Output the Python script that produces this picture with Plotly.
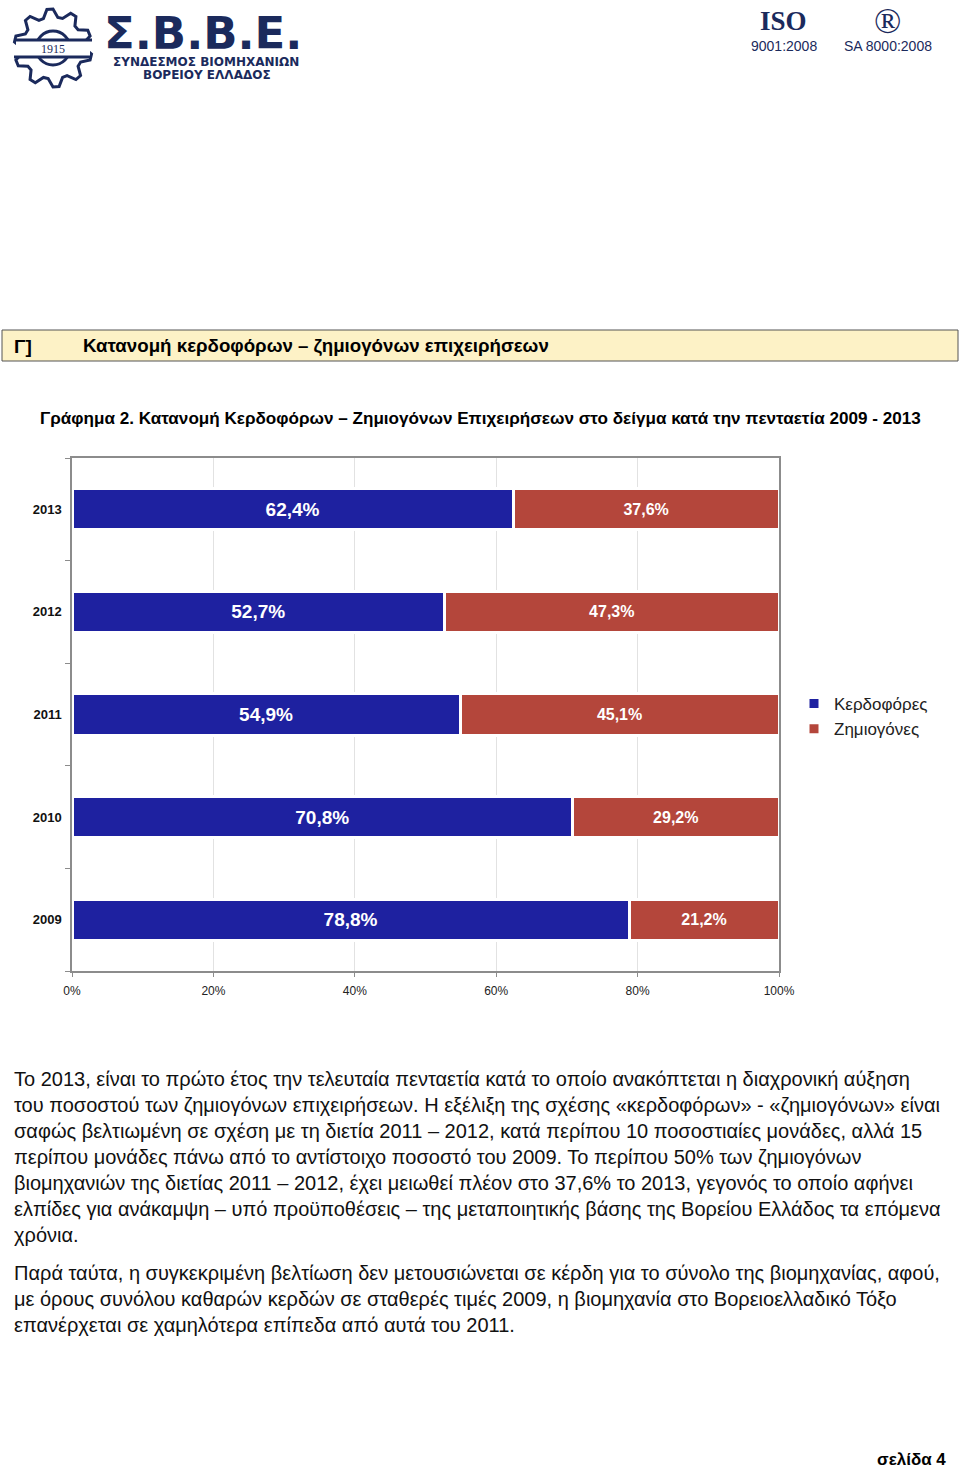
import math
import plotly.graph_objects as go

W, H = 960, 1468

# ---------------- data ----------------
years = ["2009", "2010", "2011", "2012", "2013"]
profit = [78.8, 70.8, 54.9, 52.7, 62.4]
loss = [21.2, 29.2, 45.1, 47.3, 37.6]
series_names = ["Κερδοφόρες", "Ζημιογόνες"]
x_ticks = [0, 20, 40, 60, 80, 100]
x_tick_labels = ["0%", "20%", "40%", "60%", "80%", "100%"]

section_label = "Γ]"
section_title = "Κατανομή κερδοφόρων – ζημιογόνων επιχειρήσεων"
chart_title = "Γράφημα 2. Κατανομή Κερδοφόρων – Ζημιογόνων Επιχειρήσεων στο δείγμα κατά την πενταετία 2009 - 2013"
para_lines = [
    "Το 2013, είναι το πρώτο έτος την τελευταία πενταετία κατά το οποίο ανακόπτεται η διαχρονική αύξηση",
    "του ποσοστού των ζημιογόνων επιχειρήσεων. Η εξέλιξη της σχέσης «κερδοφόρων» - «ζημιογόνων» είναι",
    "σαφώς βελτιωμένη σε σχέση με τη διετία 2011 – 2012, κατά περίπου 10 ποσοστιαίες μονάδες, αλλά 15",
    "περίπου μονάδες πάνω από το αντίστοιχο ποσοστό του 2009. Το περίπου 50% των ζημιογόνων",
    "βιομηχανιών της διετίας 2011 – 2012, έχει μειωθεί πλέον στο 37,6% το 2013, γεγονός το οποίο αφήνει",
    "ελπίδες για ανάκαμψη – υπό προϋποθέσεις – της μεταποιητικής βάσης της Βορείου Ελλάδος τα επόμενα",
    "χρόνια.",
]
para2_lines = [
    "Παρά ταύτα, η συγκεκριμένη βελτίωση δεν μετουσιώνεται σε κέρδη για το σύνολο της βιομηχανίας, αφού,",
    "με όρους συνόλου καθαρών κερδών σε σταθερές τιμές 2009, η βιομηχανία στο Βορειοελλαδικό Τόξο",
    "επανέρχεται σε χαμηλότερα επίπεδα από αυτά του 2011.",
]
page_label = "σελίδα 4"

# ---------------- helpers ----------------
def px(x):
    return x / W

def py(y):
    return 1 - y / H

def fmt(v):
    return f"{v:.1f}".replace(".", ",") + "%"

BLUE = "#1e21a0"
RED = "#b4463b"
NAVY = "#1b2a5c"
TXT = "Liberation Sans, Arial, sans-serif"
ARIAL = "Liberation Sans, Arial, sans-serif"

fig = go.Figure()
fig.add_trace(go.Bar(
    y=years, x=profit, orientation="h", name=series_names[0],
    marker=dict(color=BLUE, line=dict(color="white", width=3)),
    text=[fmt(v) for v in profit], textposition="inside", insidetextanchor="middle",
    textfont=dict(color="white", size=19, family=ARIAL, weight="bold"),
    hoverinfo="skip",
))
fig.add_trace(go.Bar(
    y=years, x=loss, orientation="h", name=series_names[1],
    marker=dict(color=RED, line=dict(color="white", width=3)),
    text=[fmt(v) for v in loss], textposition="inside", insidetextanchor="middle",
    textfont=dict(color="white", size=16, family=ARIAL, weight="bold"),
    hoverinfo="skip",
))

fig.update_layout(
    width=W, height=H, autosize=False,
    margin=dict(l=0, r=0, t=0, b=0, autoexpand=False),
    paper_bgcolor="white", plot_bgcolor="white",
    barmode="stack", bargap=0.6,
    showlegend=True,
    legend=dict(x=px(933), y=py(686), xanchor="right", yanchor="top",
                font=dict(size=17, family=ARIAL, color="#222"),
                traceorder="normal", tracegroupgap=0, itemwidth=30),
    xaxis=dict(domain=[px(72), px(779)], range=[0, 100], tickvals=x_ticks,
               ticktext=x_tick_labels, showgrid=True, gridcolor="#e2e2e2", gridwidth=1,
               showline=True, linecolor="#8c8c8c", linewidth=1.5, mirror=True,
               ticks="outside", ticklen=4, tickcolor="#8c8c8c", automargin=False,
               ticklabelstandoff=4,
               tickfont=dict(size=12, family=ARIAL, color="#222"), zeroline=False,
               fixedrange=True),
    yaxis=dict(domain=[py(971), py(458)], type="category",
               categoryorder="array", categoryarray=years,
               showline=True, linecolor="#8c8c8c", linewidth=1.5, mirror=True,
               ticks="outside", ticklen=5, tickcolor="#8c8c8c", tickson="boundaries",
               automargin=False, ticklabelstandoff=6,
               tickfont=dict(size=13, family=ARIAL, color="#111", weight="bold"),
               showgrid=False, fixedrange=True),
)

shapes = []
annotations = []

# section header box
shapes.append(dict(type="rect", xref="paper", yref="paper",
                   x0=px(2), x1=px(958), y0=py(361), y1=py(330),
                   fillcolor="#fdf2c6", line=dict(color="#555", width=1), layer="below"))
annotations.append(dict(text=section_label, x=px(12), y=py(346), xanchor="left", yanchor="middle",
                        font=dict(size=19, family=TXT, color="#000", weight="bold")))
annotations.append(dict(text=section_title, x=px(81), y=py(346), xanchor="left", yanchor="middle",
                        font=dict(size=18.7, family=TXT, color="#000", weight="bold")))
annotations.append(dict(text=chart_title, x=px(38), y=py(419), xanchor="left", yanchor="middle",
                        font=dict(size=17.1, family=TXT, color="#000", weight="bold")))

# paragraphs
for i, line in enumerate(para_lines):
    annotations.append(dict(text=line, x=px(12), y=py(1079 + 26 * i), xanchor="left",
                            yanchor="middle", font=dict(size=20, family=TXT, color="#111")))
for i, line in enumerate(para2_lines):
    annotations.append(dict(text=line, x=px(12), y=py(1273 + 26 * i), xanchor="left",
                            yanchor="middle", font=dict(size=20, family=TXT, color="#111")))

annotations.append(dict(text="<b>" + page_label + "</b>", x=px(948), y=py(1459), xanchor="right",
                        yanchor="middle", font=dict(size=17, family=TXT, color="#000")))

# ---------------- header logos (decorative) ----------------
cx, cy, r_out, r_in, teeth = 53, 48, 39, 31, 10
pts = []
for k in range(teeth * 4):
    ang = 2 * math.pi * k / (teeth * 4)
    rr = r_out if (k % 4) in (1, 2) else r_in
    pts.append((cx + rr * math.cos(ang), cy + rr * math.sin(ang)))
path = "M " + " L ".join(f"{px(a):.5f},{py(b):.5f}" for a, b in pts) + " Z"
shapes.append(dict(type="path", xref="paper", yref="paper", path=path,
                   line=dict(color=NAVY, width=3), fillcolor="rgba(0,0,0,0)"))
shapes.append(dict(type="circle", xref="paper", yref="paper",
                   x0=px(cx - 17), x1=px(cx + 17), y0=py(cy + 17), y1=py(cy - 17),
                   line=dict(color=NAVY, width=3)))
shapes.append(dict(type="rect", xref="paper", yref="paper",
                   x0=px(16), x1=px(90), y0=py(57), y1=py(40),
                   fillcolor="white", line=dict(color="white", width=0)))
for yy in (40, 57):
    shapes.append(dict(type="line", xref="paper", yref="paper",
                       x0=px(14), x1=px(92), y0=py(yy), y1=py(yy),
                       line=dict(color=NAVY, width=3)))
annotations.append(dict(text="1915", x=px(cx), y=py(49), xanchor="center", yanchor="middle",
                        font=dict(size=12, family="Liberation Serif, serif", color=NAVY)))
annotations.append(dict(text="<b>Σ.Β.Β.Ε.</b>", x=px(102), y=py(33), xanchor="left", yanchor="middle",
                        font=dict(size=45, family="DejaVu Sans, sans-serif", color=NAVY)))
annotations.append(dict(text="<b>ΣΥΝΔΕΣΜΟΣ ΒΙΟΜΗΧΑΝΙΩΝ</b>", x=px(206), y=py(62), xanchor="center",
                        yanchor="middle", font=dict(size=12, family="DejaVu Sans, sans-serif", color=NAVY)))
annotations.append(dict(text="<b>ΒΟΡΕΙΟΥ ΕΛΛΑΔΟΣ</b>", x=px(207), y=py(75), xanchor="center",
                        yanchor="middle", font=dict(size=12, family="DejaVu Sans, sans-serif", color=NAVY)))
annotations.append(dict(text="<b>ISO</b>", x=px(783), y=py(21), xanchor="center", yanchor="middle",
                        font=dict(size=27, family="Liberation Serif, serif", color=NAVY)))
annotations.append(dict(text="9001:2008", x=px(784), y=py(46), xanchor="center", yanchor="middle",
                        font=dict(size=14, family=TXT, color=NAVY)))
annotations.append(dict(text="®", x=px(887), y=py(21), xanchor="center", yanchor="middle",
                        font=dict(size=36, family="Liberation Serif, serif", color=NAVY)))
annotations.append(dict(text="SA 8000:2008", x=px(888), y=py(46), xanchor="center", yanchor="middle",
                        font=dict(size=14, family=TXT, color=NAVY)))

for a in annotations:
    a.update(xref="paper", yref="paper", showarrow=False)

fig.update_layout(shapes=shapes, annotations=annotations)
fig.write_html("out.html")
